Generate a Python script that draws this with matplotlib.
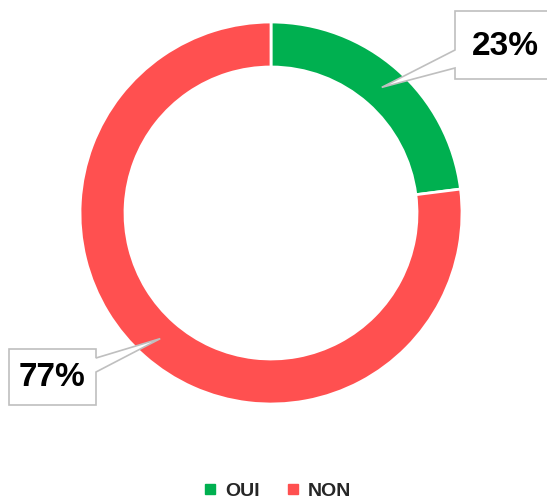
import numpy as np
import matplotlib.pyplot as plt
from matplotlib.patches import Polygon
from matplotlib.lines import Line2D

# data
labels = ['OUI', 'NON']
values = [23, 77]
colors = ['#00B050', '#FF5050']
label_text = ['23%', '77%']

W, H = 547, 499
fig = plt.figure(figsize=(W / 100, H / 100), dpi=100)
ax = fig.add_axes([0, 0, 1, 1])

cx, cy = 271, H - 213
r_out, ring = 191, 45
ax.pie(values, colors=colors, startangle=90, counterclock=False,
       radius=r_out, center=(cx, cy), frame=True,
       wedgeprops=dict(width=ring, edgecolor='white', linewidth=2))
ax.set_xlim(0, W)
ax.set_ylim(0, H)
ax.set_aspect('equal')
ax.axis('off')

# callout boxes: (left, top, right, bottom) in pixel coords, side of pointer
boxes = [((455, 11, 560, 79), 'left'), ((9, 349, 96, 405), 'right')]

cum = np.cumsum([0] + values)
total = sum(values)
for i, ((l, t, r, b), side) in enumerate(boxes):
    mid = (cum[i] + values[i] / 2) / total * 360
    rr = r_out - ring / 2 - 1
    tipx = cx + rr * np.sin(np.radians(mid))
    tipy = cy + rr * np.cos(np.radians(mid))
    T, B = H - t, H - b
    if side == 'left':
        pts = [(l, T), (r, T), (r, B), (l, B), (l, B + 11), (tipx, tipy), (l, B + 29)]
        tx = 505
    else:
        pts = [(l, T), (r, T), (r, T - 9), (tipx, tipy), (r, T - 23), (r, B), (l, B)]
        tx = 52.5
    ax.add_patch(Polygon(pts, closed=True, facecolor='white', edgecolor='#BFBFBF',
                         linewidth=1.2, zorder=5))
    ax.text(tx, (T + B) / 2 - 1, label_text[i], ha='center', va='center',
            fontsize=24, fontweight='bold', family='Liberation Sans', color='black', zorder=6)

handles = [Line2D([], [], marker='s', linestyle='', markersize=6.5, color=c) for c in colors]
fig.legend(handles, labels, loc='center', bbox_to_anchor=(0.5, 1 - 491 / H), ncol=2,
           frameon=False, handletextpad=0.0, columnspacing=1.0, handlelength=1.5,
           prop=dict(family='Liberation Sans', weight='bold', size=14), labelcolor='#262626')

fig.savefig('out.png', dpi=100)
